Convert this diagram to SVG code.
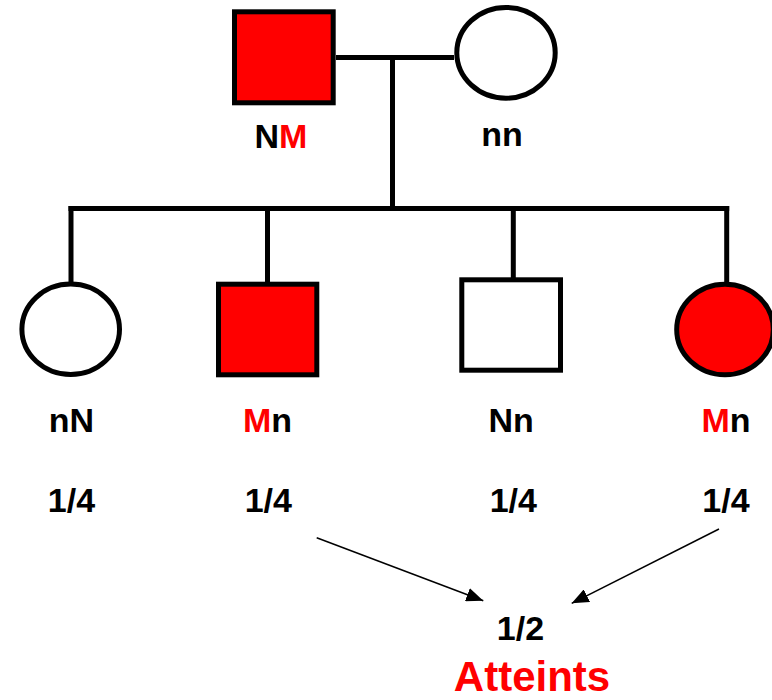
<svg xmlns="http://www.w3.org/2000/svg" width="772" height="700" viewBox="0 0 772 700">
<style>
.sym{stroke:#000;stroke-width:5;}
.aff{fill:#FF0000;}
.un{fill:#FFFFFF;}
.ln{stroke:#000;stroke-width:5;fill:none;}
.ar{stroke:#000;stroke-width:1.5;fill:none;}
text{font-family:"Liberation Sans",Arial,sans-serif;font-weight:bold;font-size:34px;fill:#000;text-anchor:middle;}
.r{fill:#FF0000;}
</style>
<defs>
<marker id="ah" markerUnits="userSpaceOnUse" markerWidth="17" markerHeight="14" refX="17" refY="7" orient="auto">
<path d="M0,0 L17,7 L0,14 z" fill="#000"/>
</marker>
</defs>
<rect width="772" height="700" fill="#FFFFFF"/>
<g id="connectors">
<line class="ln" x1="336" y1="57.5" x2="454" y2="57.5"/>
<line class="ln" x1="392.5" y1="57.5" x2="392.5" y2="208.5"/>
<line class="ln" x1="68.5" y1="208.5" x2="729.2" y2="208.5"/>
<line class="ln" x1="71" y1="206" x2="71" y2="284"/>
<line class="ln" x1="267.5" y1="208.5" x2="267.5" y2="284"/>
<line class="ln" x1="513.3" y1="208.5" x2="513.3" y2="283.3"/>
<line class="ln" x1="726.7" y1="206" x2="726.7" y2="284"/>
<line class="ar" x1="316.7" y1="537.7" x2="483.3" y2="600.7" marker-end="url(#ah)"/>
<line class="ar" x1="719" y1="529" x2="571.7" y2="603.3" marker-end="url(#ah)"/>
</g>
<g id="father">
<rect class="sym aff" x="234.5" y="11.8" width="98.7" height="91"/>
<text x="281" y="148">N<tspan class="r">M</tspan></text>
</g>
<g id="mother">
<ellipse class="sym un" cx="506" cy="52.8" rx="49.2" ry="45.4"/>
<text x="502" y="145.5">nn</text>
</g>
<g id="child1">
<ellipse class="sym un" cx="70.7" cy="329.3" rx="48.8" ry="45.2"/>
<text x="71.3" y="432.3">nN</text>
<text x="71.5" y="512.3">1/4</text>
</g>
<g id="child2">
<rect class="sym aff" x="218.5" y="284.2" width="98.3" height="90.6"/>
<text x="267.5" y="432.3"><tspan class="r">M</tspan>n</text>
<text x="268.3" y="512.3">1/4</text>
</g>
<g id="child3">
<rect class="sym un" x="461.8" y="279.8" width="98.7" height="90.4"/>
<text x="511.2" y="432.3">Nn</text>
<text x="513.3" y="512.3">1/4</text>
</g>
<g id="child4">
<ellipse class="sym aff" cx="725" cy="329.5" rx="48.3" ry="45.3"/>
<text x="726" y="432.3"><tspan class="r">M</tspan>n</text>
<text x="726" y="512.3">1/4</text>
</g>
<g id="result">
<text x="520.5" y="640">1/2</text>
<text x="532" y="691" class="r" style="font-size:42px">Atteints</text>
</g>
</svg>
